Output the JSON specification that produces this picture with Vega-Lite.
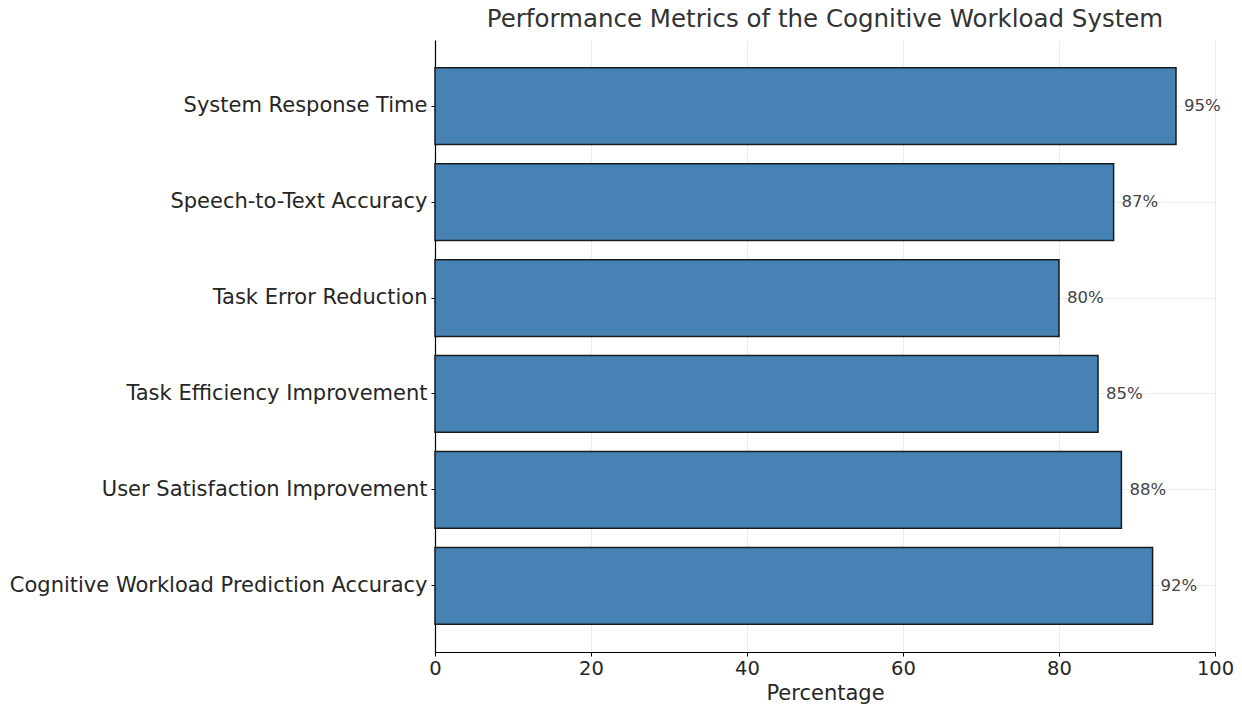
{
  "$schema": "https://vega.github.io/schema/vega-lite/v6.json",
  "autosize": {"type": "none"},
  "padding": {"left": 435, "top": 40, "right": 27, "bottom": 55},
  "width": 780,
  "height": 612,
  "background": "white",
  "title": {
    "text": "Performance Metrics of the Cognitive Workload System",
    "font": "DejaVu Sans",
    "fontSize": 24.5,
    "fontWeight": "normal",
    "color": "#333333",
    "anchor": "middle",
    "offset": 8
  },
  "config": {
    "view": {"stroke": null},
    "font": "DejaVu Sans"
  },
  "data": {
    "values": [
      {"metric": "System Response Time", "value": 95, "label": "95%"},
      {"metric": "Speech-to-Text Accuracy", "value": 87, "label": "87%"},
      {"metric": "Task Error Reduction", "value": 80, "label": "80%"},
      {"metric": "Task Efficiency Improvement", "value": 85, "label": "85%"},
      {"metric": "User Satisfaction Improvement", "value": 88, "label": "88%"},
      {"metric": "Cognitive Workload Prediction Accuracy", "value": 92, "label": "92%"}
    ]
  },
  "encoding": {
    "y": {
      "field": "metric",
      "type": "nominal",
      "sort": null,
      "scale": {"paddingInner": 0.2, "paddingOuter": 0.29},
      "axis": {
        "title": null,
        "labelFont": "DejaVu Sans",
        "labelFontSize": 21,
        "labelColor": "#262626",
        "labelLimit": 0,
        "labelPadding": 4,
        "domainColor": "#000000",
        "domainWidth": 1.2,
        "tickColor": "#000000",
        "tickSize": 4,
        "grid": true,
        "gridColor": "#ececec",
        "gridWidth": 1
      }
    },
    "x": {
      "field": "value",
      "type": "quantitative",
      "scale": {"domain": [0, 100], "nice": false},
      "axis": {
        "title": "Percentage",
        "titleFont": "DejaVu Sans",
        "titleFontSize": 21,
        "titleFontWeight": "normal",
        "titleColor": "#262626",
        "titlePadding": 5,
        "values": [0, 20, 40, 60, 80, 100],
        "labelFont": "DejaVu Sans",
        "labelFontSize": 19.5,
        "labelColor": "#262626",
        "labelPadding": 3,
        "labelFlush": false,
        "domainColor": "#000000",
        "domainWidth": 1.2,
        "tickColor": "#000000",
        "tickSize": 4,
        "grid": true,
        "gridColor": "#ececec",
        "gridWidth": 1
      }
    }
  },
  "layer": [
    {
      "mark": {"type": "bar", "color": "#4682B4", "stroke": "#1a1a1a", "strokeWidth": 1.5}
    },
    {
      "mark": {"type": "text", "align": "left", "baseline": "middle", "dx": 8, "fontSize": 16.5, "color": "#444444", "font": "DejaVu Sans"},
      "encoding": {
        "text": {"field": "label", "type": "nominal"}
      }
    }
  ]
}
